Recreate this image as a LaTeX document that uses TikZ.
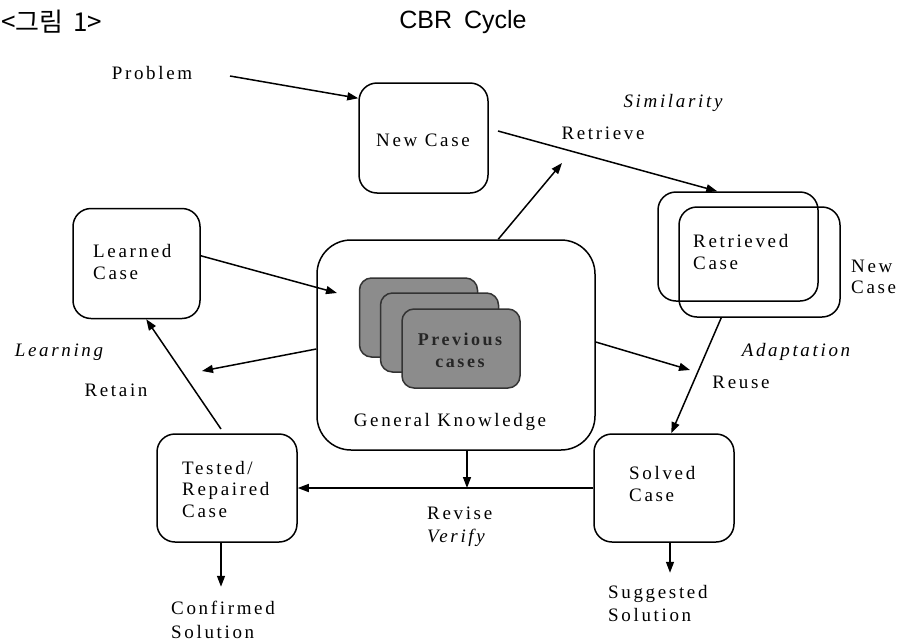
\documentclass[tikz,border=0pt]{standalone}
\usepackage{fontspec}
\setmainfont{Liberation Serif}
\newfontfamily\cjkfont{Noto Sans CJK KR}
\newfontfamily\titlefont{Liberation Sans}
\newfontfamily\spfont{Liberation Serif}[LetterSpace=14]
\usetikzlibrary{arrows.meta,calc}
\begin{document}
\begin{tikzpicture}[x=1pt,y=-1pt,
  boxst/.style={draw, line width=1.5pt, rounded corners=18pt, inner sep=0pt},
  bigbox/.style={draw, line width=1.5pt, rounded corners=34pt, inner sep=0pt},
  cardst/.style={draw=black!80, line width=1.5pt, fill=black!45, rounded corners=12pt, inner sep=0pt, minimum width=118pt, minimum height=79pt},
  lbl/.style={font=\spfont\fontsize{19}{21.5}\selectfont, inner sep=0pt, align=left},
  ital/.style={font=\spfont\itshape\fontsize{19}{21.5}\selectfont, inner sep=0pt},
  arr/.style={line width=1.5pt, -{Triangle[length=11pt,width=8pt]}}]
\useasboundingbox (0,0) rectangle (900,643);
\fill[white] (0,0) rectangle (900,643);

% titles
\node[font=\cjkfont\fontsize{26}{30}\selectfont, anchor=west, inner sep=0pt] (fig) at (1,22) {<그림\hspace{4pt} 1>};
\node[font=\titlefont\fontsize{25}{30}\selectfont, inner sep=0pt] (title) at (463,22) {CBR\hspace{5pt} Cycle};

% boxes
\node[boxst, minimum width=129pt, minimum height=110pt] (new) at (423.5,138) {};
\node[boxst, minimum width=160pt, minimum height=109pt] (retA) at (738,246.5) {};
\node[boxst, minimum width=161pt, minimum height=110pt] (retB) at (759.5,262) {};
\node[boxst, minimum width=127pt, minimum height=110pt] (learned) at (136.5,263.5) {};
\node[bigbox, minimum width=278pt, minimum height=210pt] (gk) at (456,345) {};
\node[cardst] (cardA) at (418.5,317.5) {};
\node[cardst] (cardB) at (439.5,332.5) {};
\node[cardst] (cardC) at (461,348.5) {};
\node[boxst, minimum width=140pt, minimum height=108pt] (tested) at (227,488) {};
\node[boxst, minimum width=140pt, minimum height=108pt] (solved) at (664,488) {};

% texts
\node[lbl] (prob) at (152,73) {Problem};
\node[lbl] (newt) at (423,140) {New Case};
\node[lbl] (retr) at (603,133) {Retrieve};
\node[ital] (sim) at (673,103) {Similarity};
\node[lbl, anchor=west] (rett) at (693,252) {Retrieved\\Case};
\node[lbl, anchor=west] (newc) at (851,277) {New\\Case};
\node[lbl, anchor=west] (learnt) at (93,262) {Learned\\Case};
\node[ital] (learning) at (59,352) {Learning};
\node[lbl] (retain) at (116,390) {Retain};
\node[ital] (adapt) at (796,352) {Adaptation};
\node[lbl] (reuse) at (741,382) {Reuse};
\node[lbl, font=\spfont\bfseries\fontsize{18}{22}\selectfont, align=center, text=black!85] (prev) at (460,350) {Previous\\cases};
\node[lbl] (gkt) at (450,422) {General Knowledge};
\node[lbl, anchor=west] (testt) at (182,489) {Tested/\\Repaired\\Case};
\node[lbl, anchor=west] (solvt) at (629,484) {Solved\\Case};
\node[lbl, anchor=west] (revise) at (427,513) {Revise};
\node[ital, anchor=west] (verify) at (427,538) {Verify};
\node[lbl, anchor=west, font=\spfont\fontsize{19}{24}\selectfont] (conf) at (171,620) {Confirmed\\Solution};
\node[lbl, anchor=west, font=\spfont\fontsize{19}{23}\selectfont] (sugg) at (608,603.5) {Suggested\\Solution};

% free ends
\coordinate (pstart) at (230,76);
\coordinate (rstart) at (498,131);
\coordinate (upend) at (562,163);
\coordinate (lgend) at (337,293);
\coordinate (gkleft) at (202,371);
\coordinate (gkright) at (690,370);
\coordinate (tstart) at (221,429);
\coordinate (gkb) at ($(gk.south)+(11,0)$);

% connectors
\draw[arr] (pstart) -- ($(new.north west)+(0,16)$);
\draw[arr] (rstart) -- ($(retA.north west)+(60,0)$);
\draw[arr] ($(gk.north west)+(182,0)$) -- (upend);
\draw[arr] ($(learned.north east)+(0,48)$) -- (lgend);
\draw[arr] ($(gk.west)+(0,4)$) -- (gkleft);
\draw[arr] ($(gk.east)+(0,-3)$) -- (gkright);
\draw[arr] ($(retB.south west)+(43,0)$) -- ($(solved.north west)+(78,0)$);
\draw[arr] (tstart) -- ($(learned.south west)+(74,0)$);
\draw[arr] (solved.west) -- (solved.west -| tested.east);
\draw[arr] (gkb) -- (gkb |- solved.west);
\draw[arr] ($(tested.south)+(-6,0)$) -- ++(0,44);
\draw[arr] ($(solved.south)+(6,0)$) -- ++(0,30);
\end{tikzpicture}
\end{document}
